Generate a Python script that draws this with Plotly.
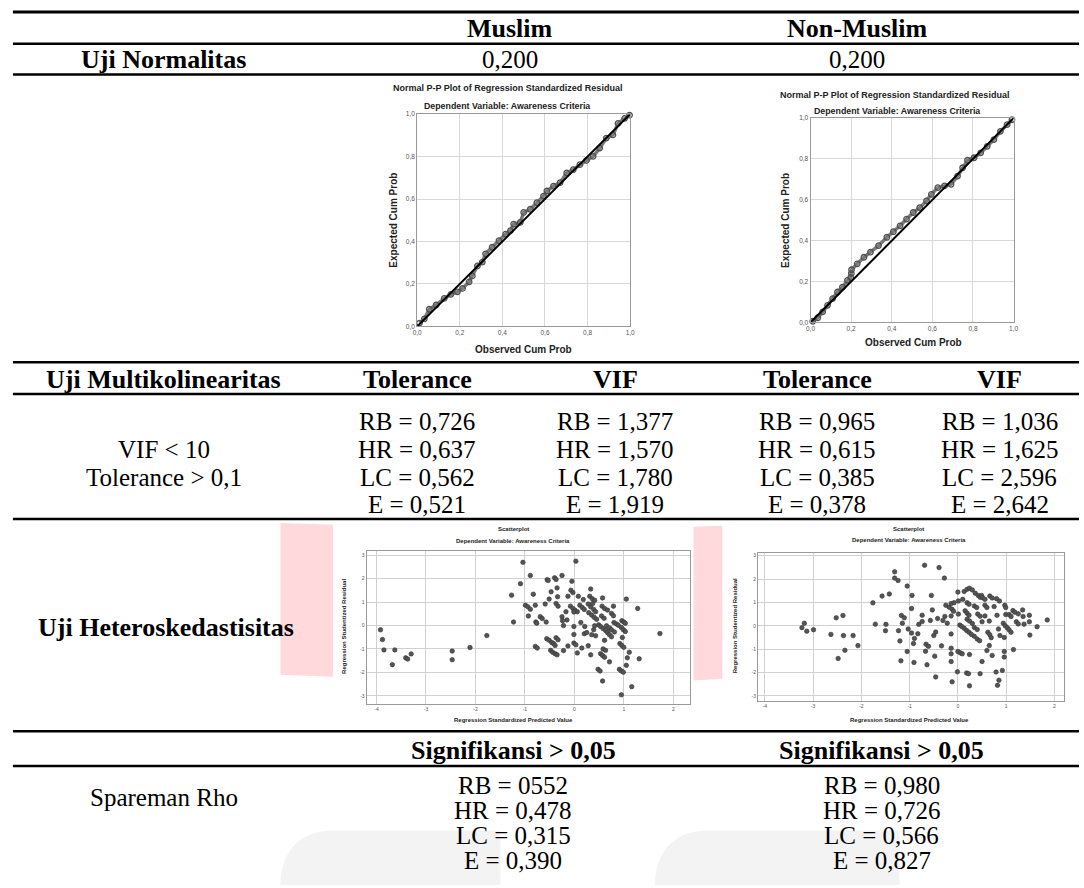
import plotly.graph_objects as go

W, H = 1084, 888
def X(px): return px / W
def Y(py): return 1 - py / H

# ---------------- data ----------------
groups = ["Muslim", "Non-Muslim"]
normality_sig = ["0,200", "0,200"]
row_labels = ["Uji Normalitas", "Uji Multikolinearitas", "Uji Heteroskedastisitas", "Spareman Rho"]
vif_criteria = ["VIF < 10", "Tolerance > 0,1"]
multi_headers = ["Tolerance", "VIF", "Tolerance", "VIF"]
muslim_tol = ["RB = 0,726", "HR = 0,637", "LC = 0,562", "E = 0,521"]
muslim_vif = ["RB = 1,377", "HR = 1,570", "LC = 1,780", "E = 1,919"]
nonmuslim_tol = ["RB = 0,965", "HR = 0,615", "LC = 0,385", "E = 0,378"]
nonmuslim_vif = ["RB = 1,036", "HR = 1,625", "LC = 2,596", "E = 2,642"]
sig_header = "Signifikansi > 0,05"
spearman_muslim = ["RB = 0552", "HR = 0,478", "LC = 0,315", "E = 0,390"]
spearman_nonmuslim = ["RB = 0,980", "HR = 0,726", "LC = 0,566", "E = 0,827"]

pp_ticks = [0, 0.2, 0.4, 0.6, 0.8, 1.0]
pp_ticktext = ["0,0", "0,2", "0,4", "0,6", "0,8", "1,0"]
ref_line = [0, 1]

pp_m_obs = [0.011, 0.034, 0.057, 0.089, 0.127, 0.158, 0.189, 0.213, 0.244, 0.259, 0.283, 0.306,
            0.321, 0.352, 0.384, 0.415, 0.438, 0.453, 0.484, 0.500, 0.531, 0.562, 0.593, 0.609,
            0.640, 0.671, 0.702, 0.733, 0.764, 0.795, 0.826, 0.857, 0.888, 0.919, 0.943, 0.974, 0.997]
pp_m_exp = [0.016, 0.036, 0.081, 0.101, 0.132, 0.151, 0.163, 0.179, 0.210, 0.238, 0.285, 0.303,
            0.342, 0.373, 0.404, 0.435, 0.451, 0.482, 0.490, 0.537, 0.552, 0.583, 0.614, 0.638,
            0.661, 0.677, 0.723, 0.739, 0.762, 0.782, 0.801, 0.840, 0.887, 0.902, 0.956, 0.980, 0.995]

pp_n_obs = [0.011, 0.036, 0.060, 0.084, 0.109, 0.133, 0.157, 0.182, 0.198, 0.201, 0.202, 0.230,
            0.263, 0.295, 0.335, 0.376, 0.408, 0.441, 0.473, 0.506, 0.538, 0.571, 0.595, 0.627,
            0.660, 0.692, 0.724, 0.749, 0.773, 0.805, 0.838, 0.870, 0.903, 0.935, 0.968, 0.992]
pp_n_exp = [0.006, 0.023, 0.052, 0.084, 0.117, 0.149, 0.173, 0.206, 0.220, 0.240, 0.258, 0.287,
            0.319, 0.344, 0.376, 0.417, 0.444, 0.473, 0.506, 0.538, 0.562, 0.595, 0.627, 0.660,
            0.668, 0.676, 0.716, 0.757, 0.794, 0.806, 0.830, 0.862, 0.895, 0.935, 0.968, 0.992]

sc_ticks_x = [-4, -3, -2, -1, 0, 1, 2]
sc_ticks_y = [-3, -2, -1, 0, 1, 2, 3]

sc_m_pred = [-3.92, -3.88, -3.85, -3.63, -3.68, -3.41, -3.37, -3.30, -2.47, -2.47, -2.11, -1.77,
             -1.27, -1.23, -1.04, 0.03, -0.89, -1.09, -0.55, -0.53, -0.40, -0.37, -0.25, -0.05,
             -0.83, -0.35, -0.47, -0.59, -0.51, -0.34, -0.13, -0.07, -0.03, -0.99, -0.94, -0.89,
             -0.79, -0.37, -0.33, -0.93, -0.69, -0.65, -0.78, -0.76, -0.57, -0.22, -0.17, -0.15,
             -0.25, -0.08, -0.03, 0.01, 0.06, 0.08, 0.18, 0.33, 0.31, 0.36, 0.41, 0.11, 0.16, 0.20,
             0.28, 0.33, 0.39, 0.43, 0.29, 0.35, 0.40, 0.45, 0.57, 0.56, 0.61, 0.67, 0.79, 0.75,
             0.79, 0.55, 0.60, 0.49, 0.53, 0.58, 0.63, 0.67, 0.71, 0.75, 0.65, 0.71, 0.75, 0.81,
             0.80, 0.85, 0.89, 0.96, 1.00, 1.03, 0.95, 0.99, 1.03, 1.05, 1.28, 1.73, -0.01, -0.01,
             -0.24, 0.21, 0.13, 0.20, 0.25, 0.41, 0.39, 0.35, 0.43, -0.56, -0.51, -0.46, -0.37,
             -0.33, -0.42, -0.39, -0.48, -0.44, -0.39, -0.35, -0.79, -0.75, -0.22, -0.13, -0.01,
             0.03, 0.06, 0.15, 0.28, 0.33, 0.61, 0.53, 0.57, 0.61, 0.58, 0.63, 0.71, 0.92, 0.96,
             1.00, 0.97, 1.07, 1.11, 1.31, 1.05, 0.48, 0.52, 0.91, 0.95, 0.99, 0.57, 1.16, 0.95,
             0.37, -0.01]
sc_m_resid = [-0.18, -0.60, -1.04, -1.04, -1.67, -1.38, -1.43, -1.21, -1.09, -1.46, -0.94, -0.43,
              1.30, 0.15, 2.70, 2.75, 2.14, 1.79, 1.96, 1.93, 2.04, 1.97, 2.14, 1.89, 1.34, 1.61,
              1.44, 0.92, 1.13, 1.23, 1.25, 1.51, 1.41, 0.87, 0.80, 0.70, 0.87, 0.94, 0.83, 0.41,
              0.38, 0.30, 0.15, 0.10, 0.15, 0.00, 0.59, 0.24, 0.38, 0.83, 0.73, 0.66, 0.59, 1.25,
              1.11, 1.56, 1.25, 1.15, 1.08, 0.87, 0.77, 0.69, 0.92, 0.80, 0.69, 0.59, 0.55, 0.45,
              0.35, 0.27, 1.18, 0.83, 0.73, 0.66, 0.83, 0.52, 0.42, 0.41, 0.31, 0.03, -0.04, -0.13,
              -0.21, -0.30, -0.39, -0.48, -0.01, -0.10, -0.18, -0.27, 0.13, 0.07, 0.01, 0.21, 0.15,
              0.10, -0.08, -0.18, -0.25, 1.13, 0.73, -0.34, -0.04, -0.38, 0.21, -0.04, 0.13, -0.35,
              -0.30, -0.01, -0.18, -0.39, -0.44, -0.56, -0.63, -0.72, -0.52, -0.61, -0.77, -0.85,
              -1.06, -1.14, -1.20, -1.25, -0.89, -0.96, -1.07, -0.87, -0.75, -0.82, -1.17, -0.96,
              -0.86, -1.25, -0.63, -1.20, -1.28, -1.35, -1.00, -1.06, -1.55, -0.77, -0.85, -0.93,
              -0.51, -1.38, -1.14, -1.42, -1.70, -1.87, -1.94, -1.87, -1.94, -1.99, -2.37, -2.61,
              -2.96, 0.94, 0.58]

sc_n_pred = [-3.23, -3.18, -3.13, -2.99, -2.63, -2.52, -2.38, -2.37, -2.34, -2.48, -2.17, -2.07,
             -1.76, -1.71, -1.57, -1.49, -1.42, -1.31, -1.31, -1.24, -1.50, -1.23, -1.18, -1.20,
             -1.17, -1.11, -1.03, -0.96, -1.15, -1.05, -0.91, -1.05, -0.96, -0.95, -0.92, -0.90,
             -0.83, -0.81, -0.74, -0.74, -0.69, -0.66, -0.61, -0.67, -0.64, -0.57, -0.55, -0.53,
             -0.50, -0.48, -0.46, -0.46, -0.42, -0.39, -0.34, -0.28, -0.31, -0.25, -0.18, -0.27,
             -0.22, -0.14, -0.14, -0.14, -0.14, -0.14, -0.14, -0.12, -0.12, -0.09, -0.08, 0.00,
             0.01, 0.01, 0.04, 0.08, 0.13, 0.18, 0.23, 0.28, 0.34, 0.40, 0.45, 0.00, 0.05, 0.09,
             -0.01, 0.18, 0.22, 0.24, 0.24, 0.13, 0.19, 0.24, 0.30, 0.10, 0.19, 0.23, 0.15, 0.19,
             0.23, 0.19, 0.24, 0.30, 0.34, 0.39, 0.36, 0.42, 0.46, 0.49, 0.41, 0.46, 0.50, 0.34,
             0.40, 0.46, 0.50, 0.56, 0.60, 0.56, 0.51, 0.56, 0.66, 0.71, 0.65, 0.62, 0.66, 0.60,
             0.69, 0.65, 0.71, 0.75, 0.80, 0.86, 0.81, 0.84, 0.79, 0.82, 0.85, 0.87, 0.94, 0.98,
             1.02, 1.06, 1.10, 0.97, 0.99, 0.99, 0.96, 0.96, 0.96, 0.92, 1.06, 1.10, 1.14, 1.18,
             1.15, 1.21, 1.25, 1.25, 1.34, 1.35, 1.37, 1.48, 1.48, 1.49, 1.64, 1.85]
sc_n_resid = [-0.08, 0.11, -0.23, -0.17, -0.37, 0.34, 0.44, -0.42, -1.05, -1.40, -0.42, -0.85,
              0.98, 0.07, 1.27, 0.06, 1.36, 2.31, 2.04, 1.94, -0.21, -0.21, -1.50, -0.65,
              0.44, 0.34, -0.14, -0.31, 0.11, 1.70, -1.57, -1.10, 0.74, 1.30, -0.76, -0.54,
              -0.34, 0.06, 0.45, 0.18, 2.59, -0.79, -0.88, -1.09, -1.67, 0.23, 1.30, 0.68,
              -0.42, -1.30, -0.27, -2.19, 0.31, 2.49, -0.86, 2.04, 0.23, 0.88, 0.79, 0.40,
              0.11, 0.95, 0.42, -0.35, -0.96, -1.20, -1.53, -2.40, 0.71, 0.62, 0.99, 1.44,
              1.06, 0.50, 0.03, -0.03, -0.11, -0.20, -0.28, -0.37, -0.45, -0.57, -0.64, -1.10,
              -1.16, -1.20, -1.97, -2.02, -2.05, -1.23, -2.57, 1.47, 1.56, 1.61, 1.53, 1.13,
              0.99, 0.92, 0.64, 0.54, 0.45, 0.28, 0.20, 0.10, 0.85, 0.78, 1.39, 1.30, 1.22,
              1.30, 0.50, 0.41, 0.17, -0.07, -0.16, -2.05, -1.53, 0.88, 0.78, 0.42, 1.20, 1.13,
              1.27, 1.19, 0.20, -0.28, -0.38, -1.06, -0.51, -0.85, -1.27, 0.82, 1.16, 1.06,
              0.45, -0.14, -1.98, -2.55, -2.33, -0.42, 0.11, 0.00, -0.08, -0.17, -0.28, 0.88,
              0.78, 0.48, -0.50, -1.10, -1.34, -1.91, 0.48, 0.40, 0.65, 0.58, -1.02, 0.17,
              0.08, 0.51, 0.68, 0.40, 0.07, 0.45, 0.17, -0.40, -0.04, 0.25]

# ---------------- figure ----------------
SERIF = "Liberation Serif"
SANS = "Liberation Sans"
fig = go.Figure()

pp_marker = dict(symbol="circle-open", size=5.5, color="#505050", line=dict(width=1.3, color="#505050"))
fig.add_trace(go.Scatter(x=pp_m_obs, y=pp_m_exp, mode="lines+markers", line=dict(color="#7a7a7a", width=3.5),
                         marker=pp_marker, xaxis="x", yaxis="y", cliponaxis=False, showlegend=False))
fig.add_trace(go.Scatter(x=ref_line, y=ref_line, mode="lines", line=dict(color="black", width=2),
                         xaxis="x", yaxis="y", showlegend=False))
fig.add_trace(go.Scatter(x=pp_n_obs, y=pp_n_exp, mode="lines+markers", line=dict(color="#7a7a7a", width=3.5),
                         marker=pp_marker, xaxis="x2", yaxis="y2", cliponaxis=False, showlegend=False))
fig.add_trace(go.Scatter(x=ref_line, y=ref_line, mode="lines", line=dict(color="black", width=2),
                         xaxis="x2", yaxis="y2", showlegend=False))

sc_marker = dict(symbol="circle", size=4.5, color="#555555", line=dict(width=0.6, color="#333333"))
fig.add_trace(go.Scatter(x=sc_m_pred, y=sc_m_resid, mode="markers", marker=sc_marker,
                         xaxis="x3", yaxis="y3", showlegend=False))
fig.add_trace(go.Scatter(x=sc_n_pred, y=sc_n_resid, mode="markers", marker=sc_marker,
                         xaxis="x4", yaxis="y4", showlegend=False))

def pp_axis(dom, anchor):
    return dict(domain=dom, anchor=anchor, range=[0, 1], tickvals=pp_ticks, ticktext=pp_ticktext,
                tickfont=dict(family=SANS, size=6.5, color="#555"), showgrid=True, gridcolor="#d8d8d8",
                gridwidth=1, zeroline=False, showline=True, linecolor="#9a9a9a", linewidth=1, mirror=True,
                ticks="", ticklen=0)

def sc_axis(dom, anchor, rng, ticks):
    return dict(domain=dom, anchor=anchor, range=rng, tickvals=ticks, ticktext=[str(t) for t in ticks],
                tickfont=dict(family=SANS, size=5, color="#555"), showgrid=True, gridcolor="#d0d0d0",
                gridwidth=1, zeroline=False, showline=True, linecolor="#9a9a9a", linewidth=1, mirror=True,
                ticks="", ticklen=0)

fig.update_layout(
    width=W, height=H, margin=dict(l=0, r=0, t=0, b=0), paper_bgcolor="white", plot_bgcolor="white",
    xaxis=pp_axis([X(416), X(631)], "y"), yaxis=pp_axis([Y(325), Y(111)], "x"),
    xaxis2=pp_axis([X(813), X(1018)], "y2"), yaxis2=pp_axis([Y(321), Y(115)], "x2"),
    xaxis3=sc_axis([X(365), X(691)], "y3", [-4.2, 2.33], sc_ticks_x),
    yaxis3=sc_axis([Y(706), Y(551)], "x3", [-3.37, 3.2], sc_ticks_y),
    xaxis4=sc_axis([X(760), X(1069)], "y4", [-4.14, 2.2], sc_ticks_x),
    yaxis4=sc_axis([Y(703), Y(553)], "x4", [-3.24, 3.13], sc_ticks_y),
)

shapes = []
# background decorations
shapes.append(dict(type="path", xref="paper", yref="paper", layer="below",
                   path=f"M {X(278)},{Y(888)} C {X(278)},{Y(860)} {X(292)},{Y(834)} {X(330)},{Y(833)} L {X(500)},{Y(833)} L {X(500)},{Y(888)} Z",
                   fillcolor="#f3f3f3", line=dict(width=0)))
shapes.append(dict(type="path", xref="paper", yref="paper", layer="below",
                   path=f"M {X(656)},{Y(888)} C {X(656)},{Y(860)} {X(670)},{Y(834)} {X(708)},{Y(833)} L {X(903)},{Y(833)} L {X(903)},{Y(888)} Z",
                   fillcolor="#f3f3f3", line=dict(width=0)))
shapes.append(dict(type="path", xref="paper", yref="paper", layer="below",
                   path=f"M {X(278)},{Y(523)} L {X(331)},{Y(525)} L {X(331)},{Y(678)} L {X(278)},{Y(676)} Z",
                   fillcolor="#ffd9dc", line=dict(width=0)))
shapes.append(dict(type="path", xref="paper", yref="paper", layer="below",
                   path=f"M {X(695)},{Y(527)} L {X(724)},{Y(526)} L {X(724)},{Y(680)} L {X(695)},{Y(682)} Z",
                   fillcolor="#ffd9dc", line=dict(width=0)))
# table rules
for yy, lw in [(8, 3), (40, 2.5), (71, 2.5), (361, 2.5), (393, 2.5), (519, 2.5), (733, 2.5), (768, 2.5)]:
    shapes.append(dict(type="line", xref="paper", yref="paper", x0=X(8), x1=1, y0=Y(yy), y1=Y(yy),
                       line=dict(color="black", width=lw)))
fig.update_layout(shapes=shapes)

ann = []
def txt(s, x, y, size=25, bold=False, family=SERIF, color="black", angle=0):
    ann.append(dict(text=f"<b>{s}</b>" if bold else s, x=X(x), y=Y(y), xref="paper", yref="paper",
                    showarrow=False, xanchor="center", yanchor="middle", textangle=angle,
                    font=dict(family=family, size=size, color=color)))

LC, MC, NC = 160, 510, 860
BS = 26
col_x = [416, 616, 820, 1004]
# header
txt(groups[0], MC, 25, size=BS, bold=True)
txt(groups[1], NC, 25, size=BS, bold=True)
txt(row_labels[0], LC, 56, size=BS, bold=True)
txt(normality_sig[0], MC, 56)
txt(normality_sig[1], NC, 56)
# multicollinearity
txt(row_labels[1], LC, 378, size=BS, bold=True)
for cx, h in zip(col_x, multi_headers):
    txt(h, cx, 378, size=BS, bold=True)
rows_y = [421, 449, 477, 504]
for i, yy in enumerate(rows_y):
    txt(muslim_tol[i], col_x[0], yy)
    txt(muslim_vif[i], col_x[1], yy)
    txt(nonmuslim_tol[i], col_x[2], yy)
    txt(nonmuslim_vif[i], col_x[3], yy)
txt(vif_criteria[0], LC, rows_y[1])
txt(vif_criteria[1], LC, rows_y[2])
# heteroskedasticity
txt(row_labels[2], 163, 628, size=BS, bold=True)
txt(sig_header, 513, 752, size=BS, bold=True)
txt(sig_header, 885, 752, size=BS, bold=True)
txt(row_labels[3], LC, 800)
sp_y = [788, 813, 838, 863]
for i, yy in enumerate(sp_y):
    txt(spearman_muslim[i], 513, yy)
    txt(spearman_nonmuslim[i], 885, yy)

# chart texts
TC = "#222"
txt("Normal P-P Plot of Regression Standardized Residual", 507, 85, size=9, bold=True, family=SANS, color=TC)
txt("Dependent Variable: Awareness Criteria", 507, 103, size=8.8, bold=True, family=SANS, color=TC)
txt("Expected Cum Prob", 392, 218, size=10, bold=True, family=SANS, color=TC, angle=-90)
txt("Observed Cum Prob", 523, 348, size=10, bold=True, family=SANS, color=TC)
txt("Normal P-P Plot of Regression Standardized Residual", 898, 92, size=9, bold=True, family=SANS, color=TC)
txt("Dependent Variable: Awareness Criteria", 900, 108, size=8.8, bold=True, family=SANS, color=TC)
txt("Expected Cum Prob", 788, 218, size=10, bold=True, family=SANS, color=TC, angle=-90)
txt("Observed Cum Prob", 917, 341, size=10, bold=True, family=SANS, color=TC)

txt("Scatterplot", 513, 529, size=6, bold=True, family=SANS, color=TC)
txt("Dependent Variable: Awareness Criteria", 513, 541, size=6, bold=True, family=SANS, color=TC)
txt("Regression Studentized Residual", 342, 627, size=6, bold=True, family=SANS, color=TC, angle=-90)
txt("Regression Standardized Predicted Value", 513, 722, size=6, bold=True, family=SANS, color=TC)
txt("Scatterplot", 912, 529, size=6, bold=True, family=SANS, color=TC)
txt("Dependent Variable: Awareness Criteria", 912, 540, size=6, bold=True, family=SANS, color=TC)
txt("Regression Studentized Residual", 737, 627, size=6, bold=True, family=SANS, color=TC, angle=-90)
txt("Regression Standardized Predicted Value", 913, 722, size=6, bold=True, family=SANS, color=TC)

fig.update_layout(annotations=ann)
fig.write_html("out.html", config={"displayModeBar": False},
               post_script="document.body.style.margin='0px';document.body.style.overflow='hidden';")
